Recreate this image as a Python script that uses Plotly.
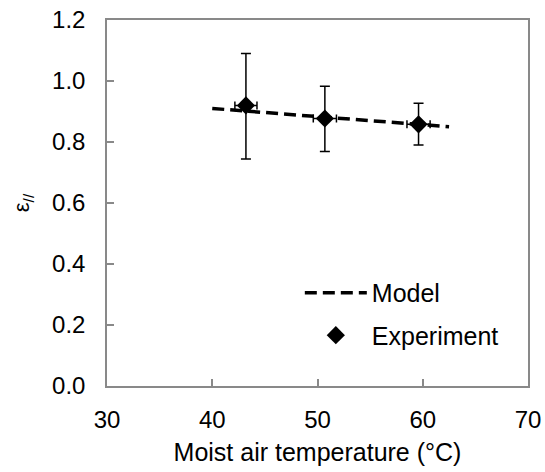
import plotly.graph_objects as go

# Data
exp_temp = [43.2, 50.7, 59.6]
exp_eps = [0.920, 0.877, 0.858]
exp_eps_err_plus = [0.170, 0.106, 0.069]
exp_eps_err_minus = [0.176, 0.108, 0.068]
exp_temp_err = [1.05, 1.10, 1.10]

model_temp = [40.0, 62.5]
model_eps = [0.910, 0.850]

x_ticks = [30, 40, 50, 60, 70]
y_ticks = [0.0, 0.2, 0.4, 0.6, 0.8, 1.0, 1.2]

FONT = "Liberation Sans, Arial, sans-serif"
AXIS_COLOR = "#898989"

fig = go.Figure()

fig.add_trace(go.Scatter(
    x=model_temp, y=model_eps, mode="lines", name="Model", legendgroup="m",
    line=dict(color="black", width=3.5, dash="12px,6px"),
))

fig.add_trace(go.Scatter(
    x=exp_temp, y=exp_eps, mode="markers", name="Experiment", legendgroup="e",
    marker=dict(symbol="diamond", size=14, color="black"),
    error_y=dict(type="data", array=exp_eps_err_plus, arrayminus=exp_eps_err_minus,
                 color="black", thickness=1.5, width=5),
    error_x=dict(type="data", array=exp_temp_err, color="black", thickness=1.5, width=4),
))

fig.update_layout(
    width=545, height=472,
    margin=dict(l=107, r=17, t=20, b=86),
    paper_bgcolor="white", plot_bgcolor="white",
    font=dict(family=FONT, size=24, color="black"),
    showlegend=True,
    legend=dict(
        x=0.458, y=0.197, xanchor="left", yanchor="middle",
        bgcolor="rgba(0,0,0,0)", font=dict(size=25),
        tracegroupgap=7, itemwidth=62,
    ),
)

fig.update_xaxes(
    range=[30, 70], tickvals=x_ticks, ticktext=[str(v) for v in x_ticks],
    ticks="inside", ticklen=7, tickcolor=AXIS_COLOR, tickwidth=1.5,
    showline=True, linecolor=AXIS_COLOR, linewidth=1.5, mirror=True,
    showgrid=False, zeroline=False, automargin=False,
    tickfont=dict(size=24),
    title=dict(text="Moist air temperature (°C)", font=dict(size=25), standoff=12),
    ticklabelstandoff=11,
)
fig.update_yaxes(
    range=[0, 1.2], tickvals=y_ticks, ticktext=[f"{v:.1f}" for v in y_ticks],
    ticks="inside", ticklen=7, tickcolor=AXIS_COLOR, tickwidth=1.5,
    showline=True, linecolor=AXIS_COLOR, linewidth=1.5, mirror=True,
    showgrid=False, zeroline=False, automargin=False,
    tickfont=dict(size=24),
    title=dict(text="ε<sub>//</sub>", font=dict(size=22), standoff=16),
    ticklabelstandoff=15,
)

fig.write_html("out.html")
